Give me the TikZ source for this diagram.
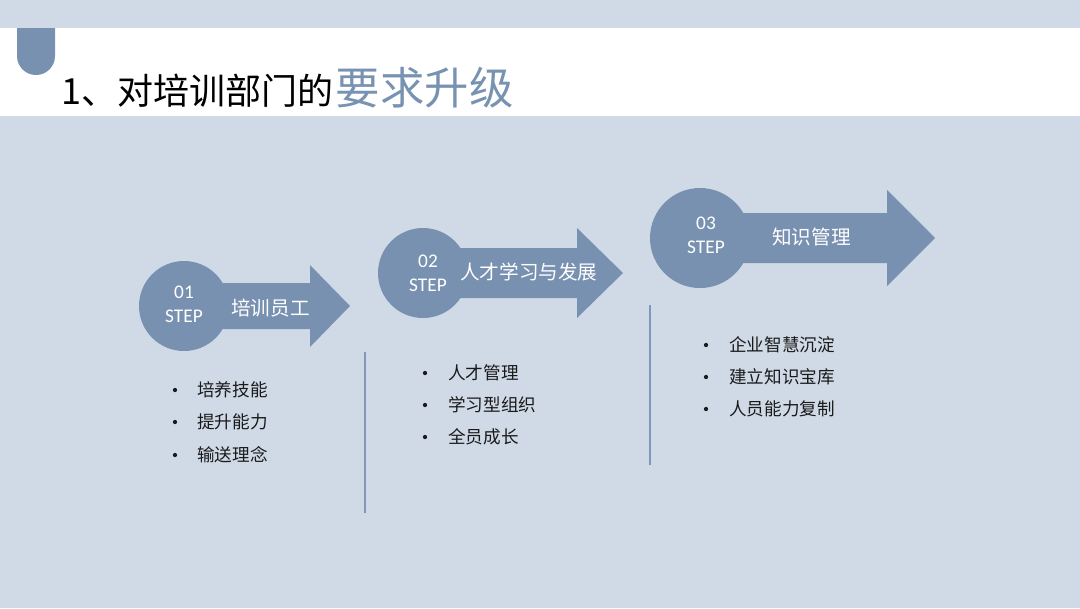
\documentclass[tikz,border=0pt]{standalone}
\usepackage{fontspec}
\setmainfont{Carlito}
\newfontfamily\cjk{Noto Sans CJK SC}
\definecolor{bgc}{HTML}{CFDAE6}
\definecolor{arrowc}{HTML}{7891B0}
\definecolor{linec}{HTML}{7F98BA}
\definecolor{titleblue}{HTML}{7892B2}
\definecolor{txt}{HTML}{1A1A1A}
\tikzset{
  stepnum/.style={text=white, font=\fontsize{14.5}{15}\selectfont, inner sep=0pt, align=center},
  steplabel/.style={text=white, font=\cjk\fontsize{14.7}{15}\selectfont, inner sep=0pt, anchor=west},
  bullettext/.style={text=txt, font=\cjk\fontsize{13.2}{14}\selectfont, inner sep=0pt, anchor=west},
  bulletdot/.style={circle, fill=txt, inner sep=0pt, minimum size=3.2pt},
  vline/.style={draw=linec, line width=2pt},
}
\newcommand{\stepshape}[7]{% cx cy r bodyhalf headstart headhalf tip
  \fill[arrowc] (#1,#2) circle[radius=#3];
  \fill[arrowc] (#1,#2-#4) -- (#5,#2-#4) -- (#5,#2-#6) -- (#7,#2) -- (#5,#2+#6) -- (#5,#2+#4) -- (#1,#2+#4) -- cycle;
}
\begin{document}
\begin{tikzpicture}[x=0.75pt,y=-0.75pt]
\useasboundingbox (0,0) rectangle (1080,608);
\fill[bgc] (0,0) rectangle (1080,608);
\fill[white] (0,28) rectangle (1080,116);
% tab
\fill[arrowc] (17,28) -- (17,56) arc[start angle=180,end angle=0,radius=19] -- (55,28) -- cycle;
% title
\node[anchor=west, inner sep=0pt, font=\cjk] (title) at (61,88)
  {\fontsize{27}{28}\selectfont\color{black}1、对培训部门的\hspace{2pt}\fontsize{33.3}{34}\selectfont\color{titleblue}要求升级};

% step 1
\stepshape{184}{306}{45}{23}{310}{41}{350}
\node[stepnum] (n1) at (184,292) {01};
\node[stepnum] (s1) at (184,316) {STEP};
\node[steplabel] (l1) at (231,308) {培训员工};
% step 2
\stepshape{423}{273}{45}{25}{577}{45}{623}
\node[stepnum] (n2) at (428,261) {02};
\node[stepnum] (s2) at (428,285) {STEP};
\node[steplabel] (l2) at (460,272) {人才学习与发展};
% step 3
\stepshape{700}{238}{50}{25}{887}{48}{935}
\node[stepnum] (n3) at (706,223) {03};
\node[stepnum] (s3) at (706,247) {STEP};
\node[steplabel] (l3) at (772,237) {知识管理};

% vertical lines
\coordinate (v1a) at (365,352); \coordinate (v1b) at (365,513);
\coordinate (v2a) at (650,305); \coordinate (v2b) at (650,465);
\draw[vline] (v1a) -- (v1b);
\draw[vline] (v2a) -- (v2b);

% bullets step 1
\node[bulletdot] (d11) at (175,390) {};
\node[bullettext] (b11) at (197,390) {培养技能};
\node[bulletdot] (d12) at (175,422) {};
\node[bullettext] (b12) at (197,422) {提升能力};
\node[bulletdot] (d13) at (175,455) {};
\node[bullettext] (b13) at (197,455) {输送理念};
% bullets step 2
\node[bulletdot] (d21) at (425,373) {};
\node[bullettext] (b21) at (448,373) {人才管理};
\node[bulletdot] (d22) at (425,405) {};
\node[bullettext] (b22) at (448,405) {学习型组织};
\node[bulletdot] (d23) at (425,437) {};
\node[bullettext] (b23) at (448,437) {全员成长};
% bullets step 3
\node[bulletdot] (d31) at (706,345) {};
\node[bullettext] (b31) at (729,345) {企业智慧沉淀};
\node[bulletdot] (d32) at (706,377) {};
\node[bullettext] (b32) at (729,377) {建立知识宝库};
\node[bulletdot] (d33) at (706,409) {};
\node[bullettext] (b33) at (729,409) {人员能力复制};
\end{tikzpicture}
\end{document}
